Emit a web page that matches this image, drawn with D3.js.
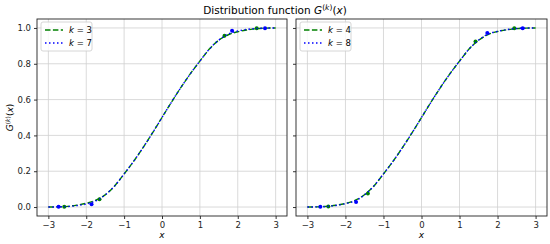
<!DOCTYPE html>
<html>
<head>
<meta charset="utf-8">
<script src="https://cdn.jsdelivr.net/npm/d3@7"></script>
<style>
  body { margin: 0; background: #fff; }
  svg { font-family: "DejaVu Sans", sans-serif; }
</style>
</head>
<body>
<script>
const width = 550, height = 244;

// x grid shared by all curves
const xs = [-3, -2.75, -2.5, -2.25, -2, -1.75, -1.5, -1.25, -1, -0.75, -0.5, -0.25, 0,
            0.25, 0.5, 0.75, 1, 1.25, 1.5, 1.75, 2, 2.25, 2.5, 2.75, 3];

// G^(k)(x)
const g_k3 = [0, 0.001, 0.004, 0.011, 0.021, 0.038, 0.068, 0.118, 0.185, 0.255, 0.332, 0.414, 0.5,
              0.586, 0.668, 0.745, 0.815, 0.882, 0.932, 0.962, 0.979, 0.989, 0.996, 0.999, 1];
const g_k7 = [0, 0.001, 0.003, 0.008, 0.017, 0.034, 0.068, 0.118, 0.185, 0.255, 0.332, 0.414, 0.5,
              0.586, 0.668, 0.745, 0.815, 0.882, 0.932, 0.966, 0.983, 0.992, 0.997, 0.999, 1];
const g_k4 = [0, 0.001, 0.004, 0.01, 0.02, 0.037, 0.069, 0.118, 0.185, 0.255, 0.332, 0.414, 0.5,
              0.586, 0.668, 0.745, 0.815, 0.882, 0.931, 0.963, 0.98, 0.99, 0.996, 0.999, 1];
const g_k8 = [0, 0.001, 0.003, 0.009, 0.019, 0.034, 0.068, 0.118, 0.185, 0.255, 0.332, 0.414, 0.5,
              0.586, 0.668, 0.745, 0.815, 0.882, 0.932, 0.966, 0.981, 0.991, 0.997, 0.999, 1];

// knot markers
const knots_k3 = {x: [-2.58, -1.65, 1.65, 2.5], y: [0.001, 0.044, 0.956, 0.999]};
const knots_k7 = {x: [-2.73, -1.86, 1.85, 2.72], y: [0.001, 0.016, 0.984, 0.999]};
const knots_k4 = {x: [-2.45, -1.41, 1.42, 2.44], y: [0.003, 0.076, 0.924, 0.998]};
const knots_k8 = {x: [-2.66, -1.72, 1.73, 2.66], y: [0.001, 0.028, 0.972, 0.999]};

const panels = [
  {left: 37, right: 287, showY: true, series: [
    {label: "3", vals: g_k3, knots: knots_k3, color: "green", dash: "5.5,2.4"},
    {label: "7", vals: g_k7, knots: knots_k7, color: "blue", dash: "1.5,2.5"}]},
  {left: 296, right: 547, showY: false, series: [
    {label: "4", vals: g_k4, knots: knots_k4, color: "green", dash: "5.5,2.4"},
    {label: "8", vals: g_k8, knots: knots_k8, color: "blue", dash: "1.5,2.5"}]}
];

const xTicks = [-3, -2, -1, 0, 1, 2, 3];
const yTicks = [0, 0.2, 0.4, 0.6, 0.8, 1.0];
const plotTop = 19, plotBottom = 216;

const svg = d3.select("body").append("svg").attr("width", width).attr("height", height);

svg.append("text")
  .attr("x", 275).attr("y", 14)
  .attr("text-anchor", "middle")
  .attr("font-size", "10.5px")
  .call(t => {
    t.append("tspan").text("Distribution function ");
    t.append("tspan").attr("font-style", "italic").text("G");
    t.append("tspan").attr("dy", -4).attr("font-size", "7.5px").text("(");
    t.append("tspan").attr("font-size", "7.5px").attr("font-style", "italic").text("k");
    t.append("tspan").attr("font-size", "7.5px").text(")");
    t.append("tspan").attr("dy", 4).text("(");
    t.append("tspan").attr("font-style", "italic").text("x");
    t.append("tspan").text(")");
  });

for (const p of panels) {
  const x = d3.scaleLinear().domain([-3.3, 3.3]).range([p.left, p.right]);
  const y = d3.scaleLinear().domain([-0.05, 1.05]).range([plotBottom, plotTop]);
  const g = svg.append("g");

  // grid
  g.append("g").selectAll("line").data(xTicks).join("line")
    .attr("x1", d => x(d)).attr("x2", d => x(d)).attr("y1", plotTop).attr("y2", plotBottom)
    .attr("stroke", "#d0d0d0").attr("stroke-width", 0.8);
  g.append("g").selectAll("line").data(yTicks).join("line")
    .attr("y1", d => y(d)).attr("y2", d => y(d)).attr("x1", p.left).attr("x2", p.right)
    .attr("stroke", "#d0d0d0").attr("stroke-width", 0.8);

  // curves
  for (const s of p.series) {
    const pts = xs.map((v, i) => [v, s.vals[i]]);
    g.append("path")
      .datum(pts)
      .attr("fill", "none")
      .attr("stroke", s.color)
      .attr("stroke-width", 1.4)
      .attr("stroke-dasharray", s.dash)
      .attr("d", d3.line().x(d => x(d[0])).y(d => y(d[1])).curve(d3.curveMonotoneX));
    g.append("g").selectAll("circle").data(s.knots.x).join("circle")
      .attr("cx", d => x(d))
      .attr("cy", (d, i) => y(s.knots.y[i]))
      .attr("r", 2)
      .attr("fill", s.color);
  }

  // axes
  const xAxis = g.append("g").attr("transform", `translate(0,${plotBottom})`)
    .call(d3.axisBottom(x).tickValues(xTicks).tickSize(3).tickPadding(3)
      .tickFormat(d => d < 0 ? "\u2212" + Math.abs(d) : d));
  const yAxis = g.append("g").attr("transform", `translate(${p.left},0)`)
    .call(d3.axisLeft(y).tickValues(yTicks).tickSize(3).tickPadding(3)
      .tickFormat(p.showY ? d3.format(".1f") : () => ""));
  for (const a of [xAxis, yAxis]) {
    a.select(".domain").remove();
    a.selectAll("text").attr("font-size", "8.5px").attr("fill", "#222")
      .attr("font-family", "DejaVu Sans, sans-serif");
    a.selectAll("line").attr("stroke", "#000").attr("stroke-width", 0.8);
  }

  g.append("rect")
    .attr("x", p.left).attr("y", plotTop)
    .attr("width", p.right - p.left).attr("height", plotBottom - plotTop)
    .attr("fill", "none").attr("stroke", "#222").attr("stroke-width", 0.9);

  g.append("text")
    .attr("x", (p.left + p.right) / 2).attr("y", 238)
    .attr("text-anchor", "middle").attr("font-size", "9px").attr("font-style", "italic")
    .text("x");

  // legend
  const lg = g.append("g").attr("transform", `translate(${p.left + 4},22)`);
  lg.append("rect").attr("width", 51).attr("height", 29).attr("rx", 2)
    .attr("fill", "#fff").attr("fill-opacity", 0.8)
    .attr("stroke", "#ccc").attr("stroke-width", 0.8);
  p.series.forEach((s, i) => {
    const yy = 8 + i * 13;
    lg.append("line").attr("x1", 4).attr("x2", 22).attr("y1", yy).attr("y2", yy)
      .attr("stroke", s.color).attr("stroke-width", 1.4).attr("stroke-dasharray", s.dash);
    lg.append("text").attr("x", 28).attr("y", yy + 3).attr("font-size", "8.5px")
      .call(t => {
        t.append("tspan").attr("font-style", "italic").text("k");
        t.append("tspan").text(" = " + s.label);
      });
  });
}

// y label
svg.append("text")
  .attr("transform", "translate(13,117.5) rotate(-90)")
  .attr("text-anchor", "middle")
  .attr("font-size", "9px")
  .call(t => {
    t.append("tspan").attr("font-style", "italic").text("G");
    t.append("tspan").attr("dy", -3).attr("font-size", "6px").text("(");
    t.append("tspan").attr("font-size", "6px").attr("font-style", "italic").text("k");
    t.append("tspan").attr("font-size", "6px").text(")");
    t.append("tspan").attr("dy", 3).text("(");
    t.append("tspan").attr("font-style", "italic").text("x");
    t.append("tspan").text(")");
  });
</script>
</body>
</html>
